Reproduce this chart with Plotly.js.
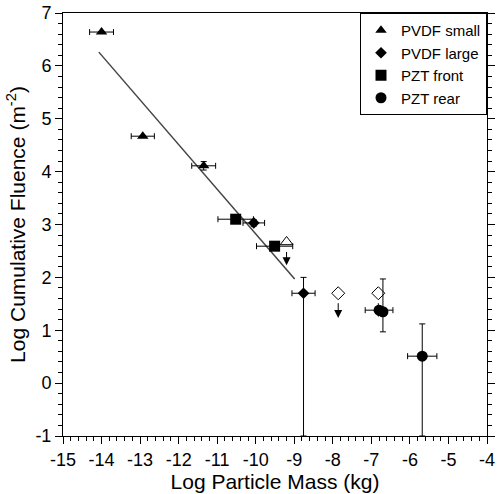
<!DOCTYPE html>
<html>
<head>
<meta charset="utf-8">
<script src="https://cdn.plot.ly/plotly-3.0.1.min.js"></script>
<style>html,body{margin:0;padding:0;background:#fff;}#chart{width:498px;height:494px;}</style>
</head>
<body>
<div id="chart"></div>
<script>
// ---- data (log10 values) ----
var pvdfSmallX = [-14.0, -12.93, -11.35];
var pvdfSmallY = [6.64, 4.67, 4.11];
var pvdfSmallXerr = [0.31, 0.30, 0.31];
var pvdfSmallYerr = [0.0, 0.0, 0.08];

var pvdfLargeX = [-10.05, -8.76];
var pvdfLargeY = [3.03, 1.70];
var pvdfLargeXerr = [0.28, 0.30];
var pvdfLargeYerrPlus = [0.06, 0.30];
var pvdfLargeYerrMinus = [0.06, 2.70];

var pztFrontX = [-10.52, -9.51];
var pztFrontY = [3.10, 2.59];
var pztFrontXerr = [0.46, 0.47];

var pztRearX = [-6.80, -6.70, -5.68];
var pztRearY = [1.38, 1.35, 0.51];
var pztRearXerr = [0.36, 0.0, 0.38];
var pztRearYerrPlus = [0.0, 0.62, 0.61];
var pztRearYerrMinus = [0.0, 0.38, 1.51];

// upper limits (open symbols with downward arrows)
var limSmallX = [-9.20];
var limSmallY = [2.67];
var limSmallTip = [2.23];
var limLargeX = [-7.86, -6.82];
var limLargeY = [1.70, 1.70];
var limLargeTip = [1.23, 1.25];

// fitted line
var fitX = [-14.07, -8.99];
var fitY = [6.26, 1.97];

var xRange = [-15, -4];
var yRange = [-1, 7];
var xTicks = [-15,-14,-13,-12,-11,-10,-9,-8,-7,-6,-5,-4];
var yTicks = [-1,0,1,2,3,4,5,6,7];

// top axis: log scale, one decade per 3 mass decades
var topDecades = [0.1, 1, 10, 100];
var topDigits = [1,2,3,4,5,6,7,8,9];
var topOffset = -12.57;

// ---- traces ----
var errStyle = {color:'#000', thickness:1, width:3};
function ex(arr){return Object.assign({type:'data', array:arr, visible:true}, errStyle);}
function ey(p,m){return Object.assign({type:'data', array:p, arrayminus:m, symmetric:false, visible:true}, errStyle);}

var traces = [
  {x: fitX, y: fitY, mode:'lines', line:{color:'#444', width:1.5}, showlegend:false, hoverinfo:'skip'},
  {x: pvdfSmallX, y: pvdfSmallY, mode:'markers', name:'PVDF small',
   marker:{symbol:'triangle-up', size:10, color:'#000'},
   error_x: ex(pvdfSmallXerr), error_y: ey(pvdfSmallYerr, pvdfSmallYerr)},
  {x: pvdfLargeX, y: pvdfLargeY, mode:'markers', name:'PVDF large',
   marker:{symbol:'diamond', size:9, color:'#000'},
   error_x: ex(pvdfLargeXerr), error_y: ey(pvdfLargeYerrPlus, pvdfLargeYerrMinus)},
  {x: pztFrontX, y: pztFrontY, mode:'markers', name:'PZT front',
   marker:{symbol:'square', size:11, color:'#000'},
   error_x: ex(pztFrontXerr)},
  {x: pztRearX, y: pztRearY, mode:'markers', name:'PZT rear',
   marker:{symbol:'circle', size:11, color:'#000'},
   error_x: ex(pztRearXerr), error_y: ey(pztRearYerrPlus, pztRearYerrMinus)},
  {x: limSmallX, y: limSmallY, mode:'markers', showlegend:false,
   marker:{symbol:'triangle-up-open', size:11, color:'#000', line:{width:1}}},
  {x: limLargeX, y: limLargeY, mode:'markers', showlegend:false,
   marker:{symbol:'diamond-open', size:10, color:'#000', line:{width:1}}}
];

// downward arrows for upper limits
var annotations = [];
function addArrows(xs, ys, tips){
  for (var i=0;i<xs.length;i++){
    annotations.push({x: xs[i], y: tips[i], ax: xs[i], ay: ys[i]-0.16,
      xref:'x', yref:'y', axref:'x', ayref:'y', text:'', showarrow:true,
      arrowhead:2, arrowsize:1.6, arrowwidth:1, arrowcolor:'#000', standoff:0, startstandoff:0});
  }
}
addArrows(limSmallX, limSmallY, limSmallTip);
addArrows(limLargeX, limLargeY, limLargeTip);

// top axis log ticks (outward tick marks along the top edge)
var plotHeightPx = 494 - 13 - 58;
var unitPx = plotHeightPx / (yRange[1] - yRange[0]);
var topMajor = [], topMinor = [];
topDecades.forEach(function(d){
  topDigits.forEach(function(k){
    var v = topOffset + 3*Math.log10(d*k);
    if (v > xRange[0] && v < xRange[1]) { (k===1 ? topMajor : topMinor).push(v); }
  });
});
function tickTrace(vals, lenPx){
  return {x: vals, y: vals.map(function(){return yRange[1] + (lenPx/2)/unitPx;}), mode:'markers',
          cliponaxis:false, showlegend:false, hoverinfo:'skip',
          marker:{symbol:'line-ns', size:lenPx, color:'#000', line:{color:'#000', width:1}}};
}
traces.push(tickTrace(topMajor, 8));
traces.push(tickTrace(topMinor, 4));

var font = 'Liberation Sans, Arial, sans-serif';
var layout = {
  width:498, height:494,
  margin:{l:63, r:11, t:13, b:58},
  paper_bgcolor:'#fff', plot_bgcolor:'#fff',
  font:{family:font, color:'#000', size:18},
  showlegend:true,
  legend:{x:1, xanchor:'right', y:1, yanchor:'top', bordercolor:'#000', borderwidth:1,
          bgcolor:'#fff', font:{size:15, family:font}, tracegroupgap:0, itemwidth:30},
  xaxis:{range:xRange, tickvals:xTicks, ticktext:xTicks.map(String), ticks:'outside', ticklen:7, tickwidth:1,
         tickcolor:'#000', showline:true, mirror:true, linecolor:'#000', linewidth:1, showgrid:false, zeroline:false,
         minor:{dtick:0.2, tick0:0, ticks:'outside', ticklen:4, tickcolor:'#000', showgrid:false},
         title:{text:'Log Particle Mass (kg)', font:{size:21, family:font}, standoff:4},
         tickfont:{size:18}},
  yaxis:{range:yRange, tickvals:yTicks, ticktext:yTicks.map(String), ticks:'outside', ticklen:7, tickwidth:1,
         tickcolor:'#000', showline:true, linecolor:'#000', linewidth:1, mirror:'ticks', showgrid:false, zeroline:false,
         minor:{dtick:0.2, tick0:0, ticks:'outside', ticklen:4, tickcolor:'#000', showgrid:false},
         title:{text:'Log Cumulative Fluence (m<sup>-2</sup>)', font:{size:21, family:font}, standoff:4},
         tickfont:{size:18}},
  annotations: annotations
};

Plotly.newPlot('chart', traces, layout, {staticPlot:true, displayModeBar:false});
</script>
</body>
</html>
